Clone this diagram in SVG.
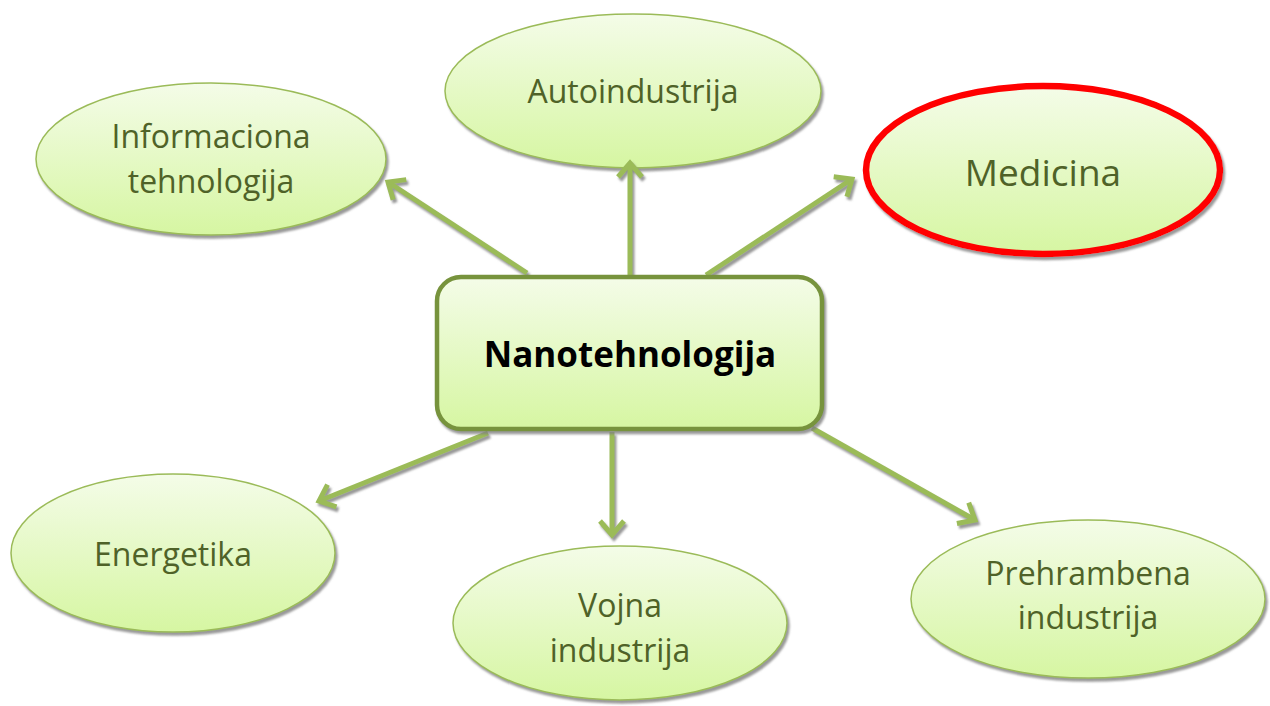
<svg xmlns="http://www.w3.org/2000/svg" width="1270" height="706" viewBox="0 0 1270 706">
<defs>
<linearGradient id="g" x1="0" y1="0" x2="0" y2="1">
<stop offset="0" stop-color="#f4fce8"/>
<stop offset="1" stop-color="#d6f6a2"/>
</linearGradient>
<filter id="sh" x="-10%" y="-10%" width="120%" height="130%">
<feGaussianBlur in="SourceAlpha" stdDeviation="1.2"/>
<feOffset dx="2" dy="3" result="o"/>
<feFlood flood-color="#7f7f7f" flood-opacity="0.8"/>
<feComposite in2="o" operator="in"/>
<feMerge><feMergeNode/><feMergeNode in="SourceGraphic"/></feMerge>
</filter>
<marker id="ah" markerUnits="userSpaceOnUse" markerWidth="30" markerHeight="30" refX="0" refY="0" orient="auto" overflow="visible">
<path d="M-14,-12 L0,0 L-14,12" fill="none" stroke="#9bbb59" stroke-width="5" stroke-linejoin="miter"/>
</marker>
</defs>
<style>
.el{fill:url(#g);stroke:#9bbb59;stroke-width:1.5;filter:url(#sh)}
.t{font-family:"Open Sans","Liberation Sans",sans-serif;fill:#4f6228;text-anchor:middle;font-size:32px}
.c{stroke:#9bbb59;stroke-width:5;fill:none;marker-end:url(#ah)}
</style>
<g id="informaciona">
<ellipse class="el" cx="211" cy="159" rx="175" ry="76"/>
<text class="t" x="211" y="148">Informaciona</text>
<text class="t" x="211" y="193">tehnologija</text>
</g>
<g id="autoindustrija">
<ellipse class="el" cx="633" cy="91" rx="188" ry="77"/>
<text class="t" x="633" y="103">Autoindustrija</text>
</g>
<g id="medicina">
<ellipse cx="1043" cy="170" rx="177" ry="84" fill="url(#g)" stroke="#ff0000" stroke-width="6.5" filter="url(#sh)"/>
<text class="t" x="1043" y="186" style="font-size:37px">Medicina</text>
</g>
<g id="energetika">
<ellipse class="el" cx="173" cy="553" rx="162" ry="79"/>
<text class="t" x="173" y="566">Energetika</text>
</g>
<g id="vojna">
<ellipse class="el" cx="620" cy="623" rx="167" ry="77"/>
<text class="t" x="620" y="617">Vojna</text>
<text class="t" x="620" y="662">industrija</text>
</g>
<g id="prehrambena">
<ellipse class="el" cx="1088" cy="599" rx="177" ry="79"/>
<text class="t" x="1088" y="585">Prehrambena</text>
<text class="t" x="1088" y="629">industrija</text>
</g>
<g id="connectors" filter="url(#sh)">
<line class="c" x1="527" y1="273" x2="388" y2="182"/>
<line class="c" x1="630" y1="278" x2="630" y2="163"/>
<line class="c" x1="706" y1="275" x2="852" y2="179"/>
<line class="c" x1="488" y1="433" x2="319" y2="501"/>
<line class="c" x1="612" y1="432" x2="612" y2="535"/>
<line class="c" x1="812" y1="428" x2="975" y2="520"/>
</g>
<g id="center">
<rect x="437" y="277" width="385" height="152" rx="24" fill="url(#g)" stroke="#77933c" stroke-width="4.5" filter="url(#sh)"/>
<text x="630" y="367" font-family="'Open Sans','Liberation Sans',sans-serif" font-weight="bold" font-size="35" fill="#000" text-anchor="middle">Nanotehnologija</text>
</g>
</svg>
